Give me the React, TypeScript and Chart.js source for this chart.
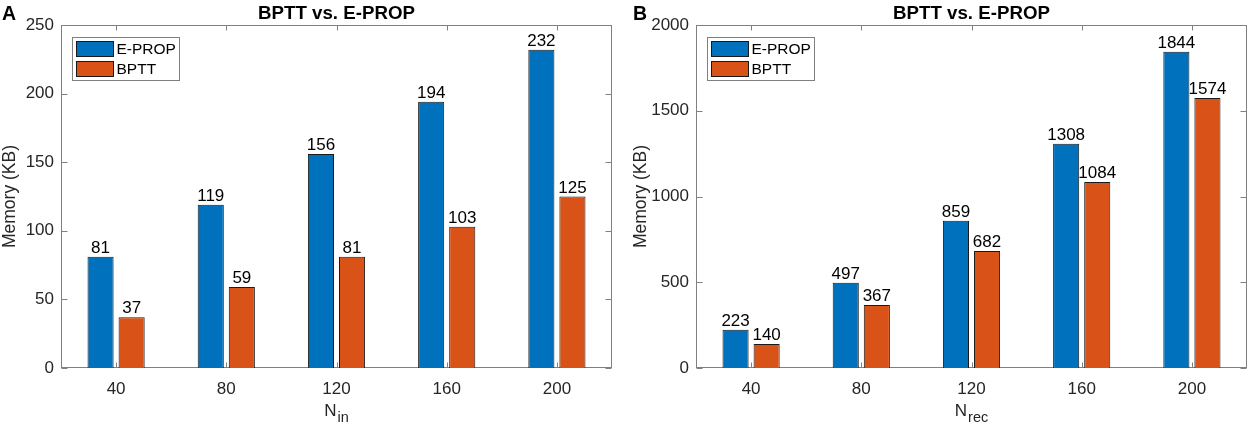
import React, { useEffect, useRef } from 'react';
import { Chart, registerables } from 'chart.js';

Chart.register(...registerables);

const categories = ['40', '80', '120', '160', '200'];
const seriesNames = ['E-PROP', 'BPTT'];
const epropA = [81, 119, 156, 194, 232];
const bpttA = [37, 59, 81, 103, 125];
const epropB = [223, 497, 859, 1308, 1844];
const bpttB = [140, 367, 682, 1084, 1574];
const yTicksA = [0, 50, 100, 150, 200, 250];
const yTicksB = [0, 500, 1000, 1500, 2000];

const FONT = '"Liberation Sans", Arial, Helvetica, sans-serif';
const BLUE = '#0072BD';
const ORANGE = '#D95319';
const TEXT = '#262626';
const AXIS = '#808080';

type PanelProps = {
  letter: string;
  title: string;
  xMain: string;
  xSub: string;
  eprop: number[];
  bptt: number[];
  yTicks: number[];
  width: number;
  yAxisWidth: number;
  rightPad: number;
  yTitlePad: number;
  letterX: number;
};

function makeDecor(p: PanelProps) {
  return {
    id: 'decor',
    beforeDatasetsDraw(chart: any) {
      const { ctx, chartArea: a, scales } = chart;
      const x = scales.x;
      const y = scales.y;
      ctx.save();
      ctx.strokeStyle = AXIS;
      ctx.lineWidth = 1;
      const L = Math.round(a.left) + 0.5;
      const R = Math.round(a.right) - 0.5;
      const T = Math.round(a.top) + 0.5;
      const B = Math.round(a.bottom) - 0.5;
      ctx.strokeRect(L, T, R - L, B - T);
      ctx.beginPath();
      for (let i = 0; i < categories.length; i++) {
        const px = Math.round(x.getPixelForValue(i)) + 0.5;
        ctx.moveTo(px, B);
        ctx.lineTo(px, B - 5);
        ctx.moveTo(px, T);
        ctx.lineTo(px, T + 5);
      }
      for (const v of p.yTicks) {
        const py = Math.round(y.getPixelForValue(v)) + 0.5;
        ctx.moveTo(L, py);
        ctx.lineTo(L + 6, py);
        ctx.moveTo(R, py);
        ctx.lineTo(R - 6, py);
      }
      ctx.stroke();
      ctx.restore();
    },
    afterDraw(chart: any) {
      const { ctx, chartArea: a } = chart;
      const series = [p.eprop, p.bptt];
      ctx.save();
      // value labels
      ctx.fillStyle = '#000';
      ctx.font = `17px ${FONT}`;
      ctx.textAlign = 'center';
      ctx.textBaseline = 'alphabetic';
      for (let d = 0; d < 2; d++) {
        const meta = chart.getDatasetMeta(d);
        meta.data.forEach((el: any, i: number) => {
          ctx.fillText(String(series[d][i]), el.x, el.y - 4);
        });
      }
      // legend
      const lx = Math.round(a.left) + 11.5;
      const ly = Math.round(a.top) + 12.5;
      ctx.fillStyle = '#fff';
      ctx.fillRect(lx, ly, 107, 43);
      ctx.strokeStyle = AXIS;
      ctx.lineWidth = 1;
      ctx.strokeRect(lx, ly, 107, 43);
      const colors = [BLUE, ORANGE];
      for (let d = 0; d < 2; d++) {
        const py = ly + 4 + d * 20;
        ctx.fillStyle = colors[d];
        ctx.fillRect(lx + 4, py, 37, 15);
        ctx.strokeStyle = '#1a1a1a';
        ctx.strokeRect(lx + 4, py, 37, 15);
        ctx.fillStyle = '#000';
        ctx.font = `15.5px ${FONT}`;
        ctx.textAlign = 'left';
        ctx.textBaseline = 'middle';
        ctx.fillText(seriesNames[d], lx + 44, py + 8.5);
      }
      // title
      ctx.fillStyle = '#000';
      ctx.font = `bold 18.7px ${FONT}`;
      ctx.textAlign = 'center';
      ctx.textBaseline = 'alphabetic';
      ctx.fillText(p.title, (a.left + a.right) / 2, 18.5);
      // panel letter
      ctx.font = `bold 19.5px ${FONT}`;
      ctx.textAlign = 'left';
      ctx.fillText(p.letter, p.letterX, 19.5);
      // x axis title with subscript
      ctx.fillStyle = TEXT;
      ctx.textBaseline = 'alphabetic';
      ctx.font = `17px ${FONT}`;
      const wMain = ctx.measureText(p.xMain).width;
      ctx.font = `14.5px ${FONT}`;
      const wSub = ctx.measureText(p.xSub).width;
      const cx = (a.left + a.right) / 2;
      const sx = cx - (wMain + wSub + 1) / 2;
      ctx.font = `17px ${FONT}`;
      ctx.fillText(p.xMain, sx, 415.5);
      ctx.font = `14.5px ${FONT}`;
      ctx.fillText(p.xSub, sx + wMain + 1, 422);
      ctx.restore();
    },
  };
}

function Panel(p: PanelProps) {
  const ref = useRef<HTMLCanvasElement | null>(null);
  useEffect(() => {
    if (!ref.current) return;
    const yMax = p.yTicks[p.yTicks.length - 1];
    const chart = new Chart(ref.current, {
      type: 'bar',
      data: {
        labels: categories,
        datasets: [
          {
            label: seriesNames[0],
            data: p.eprop,
            backgroundColor: BLUE,
            borderColor: '#1a1a1a',
            borderWidth: 1,
            categoryPercentage: 0.564,
            barPercentage: 0.84,
          },
          {
            label: seriesNames[1],
            data: p.bptt,
            backgroundColor: ORANGE,
            borderColor: '#1a1a1a',
            borderWidth: 1,
            categoryPercentage: 0.564,
            barPercentage: 0.84,
          },
        ],
      },
      options: {
        animation: false,
        responsive: false,
        maintainAspectRatio: false,
        layout: { padding: { top: 25, right: p.rightPad, left: 0, bottom: 0 } },
        plugins: {
          legend: { display: false },
          tooltip: { enabled: false },
          title: { display: false },
        },
        scales: {
          x: {
            grid: { display: false, drawTicks: false },
            border: { display: false },
            ticks: { font: { family: FONT, size: 17 }, color: TEXT, padding: 11, maxRotation: 0 },
            afterFit: (s: any) => {
              s.height = 62;
            },
          },
          y: {
            min: 0,
            max: yMax,
            grid: { display: false, drawTicks: false },
            border: { display: false },
            ticks: {
              font: { family: FONT, size: 17 },
              color: TEXT,
              padding: 7,
              callback: (v: any) => String(v),
            },
            afterBuildTicks: (s: any) => {
              s.ticks = p.yTicks.map((v) => ({ value: v }));
            },
            title: {
              display: true,
              text: 'Memory (KB)',
              font: { family: FONT, size: 17.5 },
              color: TEXT,
              padding: { top: p.yTitlePad, bottom: 0 },
            },
            afterFit: (s: any) => {
              s.width = p.yAxisWidth;
            },
          },
        },
      },
      plugins: [makeDecor(p)],
    } as any);
    return () => chart.destroy();
  }, []);
  return (
    <canvas
      ref={ref}
      width={p.width}
      height={430}
      style={{ display: 'block', width: p.width, height: 430 }}
    />
  );
}

export default function App() {
  return (
    <div style={{ position: 'absolute', left: 0, top: 0, width: 1248, height: 430, background: '#fff', display: 'flex' }}>
      <Panel
        letter="A"
        title="BPTT vs. E-PROP"
        xMain="N"
        xSub="in"
        eprop={epropA}
        bptt={bpttA}
        yTicks={yTicksA}
        width={620}
        yAxisWidth={61}
        rightPad={8}
        yTitlePad={0}
        letterX={2}
      />
      <Panel
        letter="B"
        title="BPTT vs. E-PROP"
        xMain="N"
        xSub="rec"
        eprop={epropB}
        bptt={bpttB}
        yTicks={yTicksB}
        width={628}
        yAxisWidth={76}
        rightPad={1}
        yTitlePad={11}
        letterX={13}
      />
    </div>
  );
}
